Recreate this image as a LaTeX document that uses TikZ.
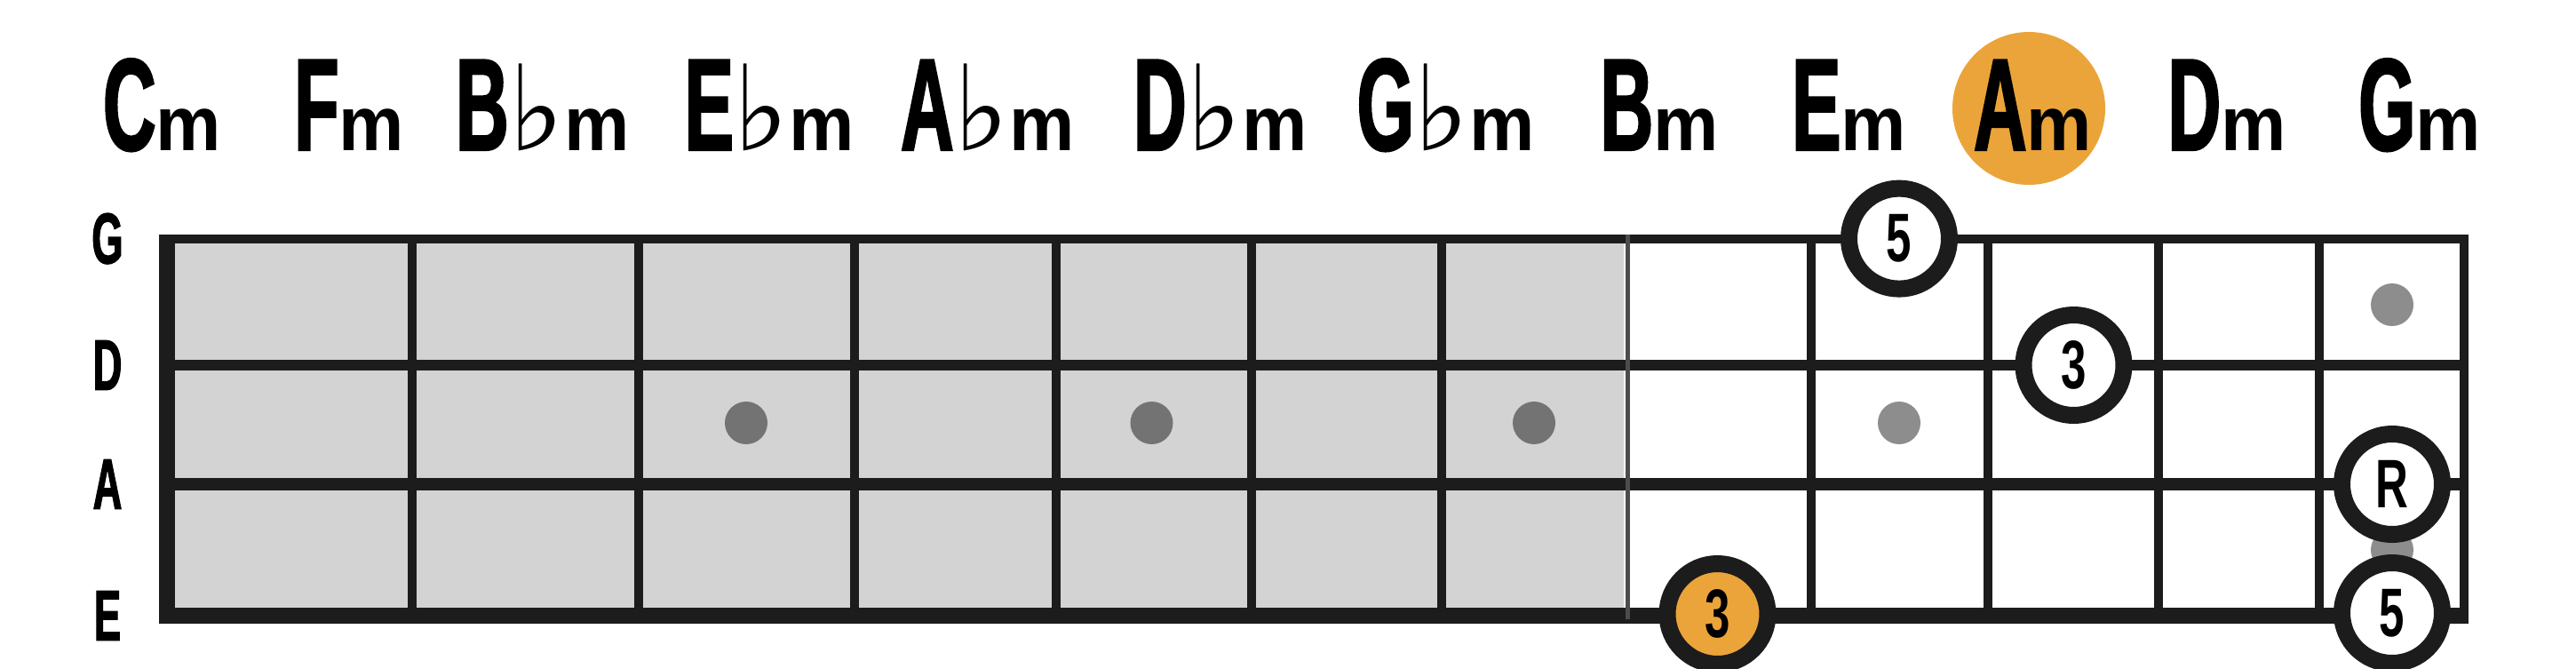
\documentclass[tikz,border=0pt]{standalone}
\usepackage{fontspec}
\newfontfamily\chordfont[FakeStretch=0.56, FakeBold=1.5]{Liberation Sans}
\newfontfamily\minorfont[FakeStretch=0.95]{Liberation Sans}
\newfontfamily\notefont[FakeStretch=0.66]{Liberation Sans}
\newfontfamily\flatfont{DejaVu Sans}
\definecolor{arancio}{HTML}{EBA43A}
\definecolor{tasto}{HTML}{D3D3D3}
\definecolor{filo}{HTML}{1C1C1C}
\definecolor{puntoscuro}{HTML}{737373}
\definecolor{puntochiaro}{HTML}{8D8D8D}
\newcommand{\acc}[2]{{\chordfont\bfseries\fontsize{42}{42}\selectfont #1}{\minorfont\bfseries\fontsize{24.7}{24.7}\selectfont #2}}
\newcommand{\bem}{{\flatfont\mdseries\fontsize{38}{38}\selectfont ♭}}
\begin{document}
\begin{tikzpicture}[
    accordo/.style={inner sep=0pt, anchor=base},
    corda/.style={inner sep=0pt, font=\chordfont\bfseries\fontsize{23}{23}\selectfont},
    nota/.style={circle, draw=filo, line width=0.19cm, fill=white, minimum size=1.13cm, inner sep=0pt, font=\notefont\bfseries\fontsize{22}{22}\selectfont}
]
    \useasboundingbox (0, 0) rectangle (29, 7.52);

    % Accordi
    \fill[arancio] (22.84, 6.30) circle (0.86);
    \node[accordo] (cm)  at (1.825, 5.83)  {\acc{C}{m}};
    \node[accordo] (fm)  at (3.93, 5.83)   {\acc{F}{m}};
    \node[accordo] (bbm) at (6.11, 5.83)   {\acc{B}{\bem m}};
    \node[accordo] (ebm) at (8.665, 5.83)  {\acc{E}{\bem m}};
    \node[accordo] (abm) at (11.12, 5.83)  {\acc{A}{\bem m}};
    \node[accordo] (dbm) at (13.74, 5.83)  {\acc{D}{\bem m}};
    \node[accordo] (gbm) at (16.28, 5.83)  {\acc{G}{\bem m}};
    \node[accordo] (bm)  at (18.68, 5.83)  {\acc{B}{m}};
    \node[accordo] (em)  at (20.815, 5.83) {\acc{E}{m}};
    \node[accordo] (am)  at (22.885, 5.83) {\acc{A}{m}};
    \node[accordo] (dm)  at (25.07, 5.83)  {\acc{D}{m}};
    \node[accordo] (gm)  at (27.24, 5.83)  {\acc{G}{m}};

    % Tastiera
    \fill[tasto] (1.875, 4.834) rectangle (18.28, 0.59);
    \foreach \x in {4.64, 7.19, 9.615, 11.885, 14.085, 16.225, 20.385, 22.375, 24.30, 26.11}
        \draw[filo, line width=0.1cm] (\x, 4.884) -- (\x, 0.59);

    % Corde
    \foreach \y/\w/\s in {4.834/0.10cm/G, 3.41/0.12cm/D, 2.07/0.145cm/A, 0.59/0.18cm/E} {
        \draw[filo, line width=\w] (1.8, \y) -- (27.79, \y);
        \node[corda] (corda\s) at (1.21, \y) {\s};
    }
    \draw[filo, line width=0.18cm] (1.875, 4.884) -- (1.875, 0.50);
    \draw[filo, line width=0.1cm] (27.74, 4.884) -- (27.74, 0.50);
    \draw[gray!60!black, line width=0.05cm] (18.325, 4.884) -- (18.325, 0.55);

    % Segnatasti
    \foreach \x in {8.40, 12.965, 17.27}
        \fill[puntoscuro] (\x, 2.76) circle (0.24);
    \foreach \x/\y in {21.38/2.76, 26.93/4.09, 26.93/1.33}
        \fill[puntochiaro] (\x, \y) circle (0.24);

    % Note
    \node[nota] (quintaG) at (21.38, 4.834) {5};
    \node[nota] (terzaD)  at (23.345, 3.41) {3};
    \node[nota] (radice)  at (26.93, 2.07)  {R};
    \node[nota] (quintaE) at (26.93, 0.62)  {5};
    \node[nota, fill=arancio] (terzaE) at (19.335, 0.61) {3};
\end{tikzpicture}
\end{document}
